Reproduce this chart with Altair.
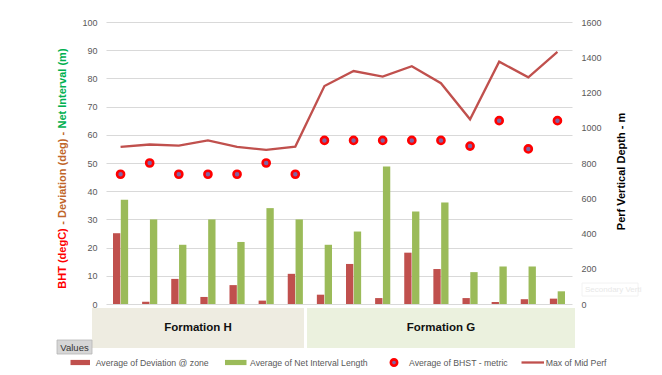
import altair as alt
import pandas as pd

# ---------------- data ----------------
categories = ["H-01", "H-02", "H-03", "H-04", "H-05", "H-06", "H-07",
              "G-01", "G-02", "G-03", "G-04", "G-05", "G-06", "G-07", "G-08", "G-09"]
formation = ["Formation H"] * 7 + ["Formation G"] * 9
deviation = [25.1, 0.8, 8.9, 2.5, 6.7, 1.2, 10.7, 3.3, 14.2, 2.1, 18.2, 12.4, 2.1, 0.7, 1.7, 1.9]
net_interval = [37, 30, 21, 30, 22, 34, 30, 21, 25.7, 48.8, 32.8, 36.0, 11.3, 13.3, 13.3, 4.5]
bhst = [46, 50, 46, 46, 46, 50, 46, 58, 58, 58, 58, 58, 56, 65, 55, 65]
mid_perf = [891, 905, 899, 928, 891, 875, 893, 1237, 1322, 1290, 1349, 1253, 1048, 1375, 1286, 1430]

series_names = ["Average of Deviation @ zone", "Average of Net Interval Length"]
bhst_name = "Average of BHST - metric"
perf_name = "Max of Mid Perf"
formations = ["Formation H", "Formation G"]
left_ticks = [0, 10, 20, 30, 40, 50, 60, 70, 80, 90, 100]
right_ticks = [0, 200, 400, 600, 800, 1000, 1200, 1400, 1600]

RED = "#C0504D"
GREEN = "#9BBB59"
FONT = "Liberation Sans"
GREY = "#595959"

W, H = 466, 282

# ---------------- tables ----------------
bar_df = pd.DataFrame({
    "category": categories * 2,
    "series": [series_names[0]] * len(categories) + [series_names[1]] * len(categories),
    "value": deviation + net_interval,
})
pt_df = pd.DataFrame({"category": categories, "bhst": bhst, "perf": mid_perf, "formation": formation})

xenc = alt.X("category:N", sort=categories,
             scale=alt.Scale(paddingInner=0.48, paddingOuter=0.24), axis=None)

bars = alt.Chart(bar_df).mark_bar().encode(
    x=xenc,
    xOffset=alt.XOffset("series:N", sort=series_names, scale=alt.Scale(paddingInner=0.06)),
    y=alt.Y("value:Q", scale=alt.Scale(domain=[0, 100], nice=False),
            axis=alt.Axis(orient="left", values=left_ticks, title=None, grid=True,
                          gridColor="#D9D9D9", domain=False, ticks=False, format="d",
                          labelColor=GREY, labelFont=FONT, labelFontSize=9, labelPadding=9)),
    color=alt.Color("series:N", scale=alt.Scale(domain=series_names, range=[RED, GREEN]), legend=None),
)

points = alt.Chart(pt_df).mark_circle(size=50, fill="#8064A2", stroke="#FF0000",
                                      strokeWidth=2.6, opacity=1).encode(
    x=xenc,
    y=alt.Y("bhst:Q", scale=alt.Scale(domain=[0, 100], nice=False), axis=None),
)

line = alt.Chart(pt_df).mark_line(color=RED, strokeWidth=2.3).encode(
    x=xenc,
    y=alt.Y("perf:Q", scale=alt.Scale(domain=[0, 1600], nice=False),
            axis=alt.Axis(orient="right", values=right_ticks, title=None, grid=False,
                          domain=False, ticks=False, format="d", labelColor=GREY,
                          labelFont=FONT, labelFontSize=9, labelPadding=9)),
)

# ---------------- axis titles ----------------
left_title = alt.Chart(pd.DataFrame({
    "t": ["BHT (degC)", " - Deviation (deg) - ", "Net Interval (m)"],
    "y": [236.5, 156.3, 66.5],
    "c": ["#FF0000", "#C0652A", "#00B050"],
})).mark_text(angle=270, font=FONT, fontSize=11, fontWeight="bold", baseline="middle",
              align="center").encode(
    x=alt.value(-43), y=alt.Y("y:Q", scale=None), text="t:N",
    color=alt.Color("c:N", scale=None))

right_title = alt.Chart(pd.DataFrame({"t": ["Perf Vertical Depth - m"]})).mark_text(
    angle=270, font=FONT, fontSize=11, fontWeight="bold", color="#000000",
    baseline="middle", align="center").encode(
    x=alt.value(516), y=alt.value(149.5), text="t:N")

# faint placeholder title
ghost_box = alt.Chart(pd.DataFrame({"a": [1]})).mark_rect(
    fill="#FFFFFF", stroke="#F2F2F2", strokeWidth=1).encode(
    x=alt.value(476), x2=alt.value(532), y=alt.value(261), y2=alt.value(274))
ghost_text = alt.Chart(pd.DataFrame({"t": ["Secondary Verti"]})).mark_text(
    font=FONT, fontSize=8, color="#E8E8E8", align="left", baseline="middle").encode(
    x=alt.value(479), y=alt.value(267.5), text="t:N")

# ---------------- formation boxes ----------------
box_df = pd.DataFrame({
    "f": formations,
    "x0": [-14, 201], "x1": [198, 469],
    "fill": ["#EEECE1", "#EBF1DE"],
})
boxes = alt.Chart(box_df).mark_rect().encode(
    x=alt.X("x0:Q", scale=None), x2="x1:Q",
    y=alt.value(286), y2=alt.value(326),
    fill=alt.Fill("fill:N", scale=None))
box_text = alt.Chart(box_df.assign(xc=[(a + b) / 2 for a, b in zip(box_df.x0, box_df.x1)])).mark_text(
    font=FONT, fontSize=11.5, fontWeight="bold", color="#111111", baseline="middle").encode(
    x=alt.X("xc:Q", scale=None), y=alt.value(306), text="f:N")

# "Values" field button
val_btn = alt.Chart(pd.DataFrame({"a": [1]})).mark_rect(
    fill="#D6D6D6", stroke="#B5B5B5", strokeWidth=0.8).encode(
    x=alt.value(-49), x2=alt.value(-14), y=alt.value(318), y2=alt.value(332))
val_txt = alt.Chart(pd.DataFrame({"t": ["Values"]})).mark_text(
    font=FONT, fontSize=9.5, color="#333333", baseline="middle").encode(
    x=alt.value(-31.5), y=alt.value(325.5), text="t:N")

# ---------------- legend ----------------
LY = 340.5
leg_rects = alt.Chart(pd.DataFrame({
    "s": series_names, "x0": [-35.5, 119], "x1": [-16, 140.5]})).mark_rect().encode(
    x=alt.X("x0:Q", scale=None), x2="x1:Q",
    y=alt.value(LY - 2.6), y2=alt.value(LY + 2.6),
    color=alt.Color("s:N", scale=alt.Scale(domain=series_names, range=[RED, GREEN]), legend=None))
leg_pt = alt.Chart(pd.DataFrame({"s": [bhst_name]})).mark_circle(
    size=40, fill="#8064A2", stroke="#FF0000", strokeWidth=2.6, opacity=1).encode(
    x=alt.value(288), y=alt.value(LY))
leg_line = alt.Chart(pd.DataFrame({"s": [perf_name]})).mark_rule(
    color=RED, strokeWidth=2.3).encode(
    x=alt.value(415.5), x2=alt.value(438), y=alt.value(LY))
leg_text = alt.Chart(pd.DataFrame({
    "t": series_names + [bhst_name, perf_name],
    "x": [-10.3, 144, 303, 439.7]})).mark_text(
    font=FONT, fontSize=8.7, color=GREY, align="left", baseline="middle").encode(
    x=alt.X("x:Q", scale=None), y=alt.value(LY), text="t:N")

chart = alt.layer(
    bars, points, line,
    left_title, right_title, ghost_box, ghost_text,
    boxes, box_text, val_btn, val_txt,
    leg_rects, leg_pt, leg_line, leg_text,
).resolve_scale(
    y="independent", color="independent"
).properties(
    width=W, height=H,
    autosize=alt.AutoSizeParams(type="none"),
    padding={"left": 106, "top": 22, "right": 90, "bottom": 71},
    background="#FFFFFF",
).configure_view(stroke=None)

chart.save("out.html", embed_options={"renderer": "svg", "actions": False})
